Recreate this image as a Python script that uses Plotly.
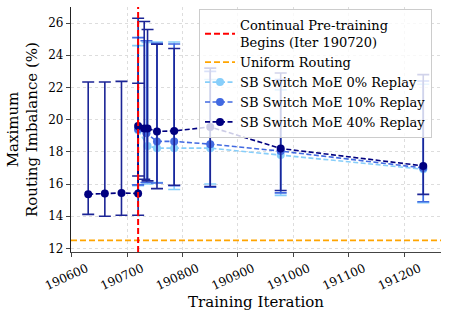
import plotly.graph_objects as go

# checkpoints before continual pre-training (shared start)
pre_iters = [190630, 190660, 190690, 190720]
pre_imb = [15.37, 15.41, 15.45, 15.41]
pre_min = [14.12, 14.00, 14.06, 14.06]
pre_max = [22.34, 22.34, 22.38, 22.26]

# 0% replay
r0_iters = [190720, 190737, 190754, 190785, 190850, 190977, 191234]
r0_imb = [19.35, 18.37, 18.23, 18.23, 18.23, 17.80, 16.92]
r0_min = [15.90, 16.00, 16.10, 15.66, 16.00, 15.30, 14.84]
r0_max = [24.60, 24.80, 24.83, 24.83, 22.50, 21.85, 22.20]

# 10% replay
r10_iters = [190720, 190735, 190754, 190785, 190850, 190977, 191234]
r10_imb = [19.40, 19.15, 18.65, 18.65, 18.48, 18.05, 17.00]
r10_min = [15.95, 16.10, 16.07, 15.90, 15.80, 15.45, 14.90]
r10_max = [25.10, 24.90, 24.75, 24.70, 23.00, 22.50, 22.40]

# 40% replay
r40_iters = [190720, 190731, 190737, 190754, 190785, 190850, 190977, 191234]
r40_imb = [19.60, 19.45, 19.45, 19.27, 19.30, 19.55, 18.21, 17.13]
r40_min = [16.50, 16.30, 16.20, 15.72, 15.93, 15.85, 15.60, 15.36]
r40_max = [26.30, 26.10, 25.60, 24.69, 24.42, 23.20, 22.90, 22.80]

cpt_iter = 190720
uniform = 12.5
x_range = [190599, 191266]
y_range = [11.78, 27.0]

SERIF = 'DejaVu Serif'

fig = go.Figure()


def add_series(xs, ys, lo, hi, name, color, err_color, rank, show=True):
  fig.add_trace(go.Scatter(
    x=xs, y=ys, name=name, mode='lines+markers',
    line=dict(color=color, width=1.6, dash='5px,2.5px'),
    marker=dict(color=color, size=8),
    error_y=dict(type='data', symmetric=False,
                 array=[h - y for h, y in zip(hi, ys)],
                 arrayminus=[y - l for y, l in zip(ys, lo)],
                 color=err_color, thickness=1.6, width=6),
    legendrank=rank, showlegend=show))


add_series(r0_iters, r0_imb, r0_min, r0_max, 'SB Switch MoE 0% Replay',
           '#87CEFA', '#87CEFA', 3)
add_series(r10_iters, r10_imb, r10_min, r10_max, 'SB Switch MoE 10% Replay',
           '#4169E1', '#4169E1', 4)
add_series(pre_iters + r40_iters, pre_imb + r40_imb, pre_min + r40_min,
           pre_max + r40_max, 'SB Switch MoE 40% Replay', '#000080', '#1c2596', 5)

fig.add_trace(go.Scatter(
  x=x_range, y=[uniform, uniform], mode='lines', name='Uniform Routing',
  line=dict(color='#FFA500', width=1.8, dash='6px,3px'), legendrank=2))
fig.add_trace(go.Scatter(
  x=[cpt_iter, cpt_iter], y=y_range, mode='lines',
  name='Continual Pre-training<br>Begins (Iter 190720)',
  line=dict(color='#FF0000', width=2, dash='6px,3px'), legendrank=1))

fig.update_layout(
  width=449, height=321,
  margin=dict(l=71, r=8, t=7, b=69),
  plot_bgcolor='white', paper_bgcolor='white',
  font=dict(family=SERIF, color='black', size=12),
  legend=dict(x=0.346, y=0.99, xanchor='left', yanchor='top',
              bgcolor='rgba(255,255,255,0.8)', bordercolor='#cccccc',
              borderwidth=1, font=dict(size=13, family=SERIF, color='black'),
              tracegroupgap=0, itemwidth=30),
  xaxis=dict(range=x_range, tickvals=list(range(190600, 191201, 100)),
             tickformat='d', tickangle=-25, ticks='outside', ticklen=4,
             tickfont=dict(family=SERIF, size=12, color='black'),
             ticklabelshift=15, ticklabelstandoff=0, automargin=False,
             showline=True, linecolor='#444', linewidth=1.2,
             showgrid=True, gridcolor='#dddddd', griddash='dot',
             zeroline=False,
             title=dict(text='Training Iteration',
                        font=dict(size=15, family=SERIF, color='black'),
                        standoff=4)),
  yaxis=dict(range=y_range, tickvals=list(range(12, 27, 2)),
             ticks='outside', ticklen=4, automargin=False,
             tickfont=dict(family=SERIF, size=12, color='black'),
             showline=True, linecolor='#222', linewidth=1.2,
             showgrid=True, gridcolor='#dddddd', griddash='dot',
             zeroline=False,
             title=dict(text='Maximum<br>Routing Imbalance (%)',
                        font=dict(size=15, family=SERIF, color='black'),
                        standoff=6)),
)

fig.write_html("out.html", config={'displayModeBar': False},
               post_script="document.body.style.margin='0';")
